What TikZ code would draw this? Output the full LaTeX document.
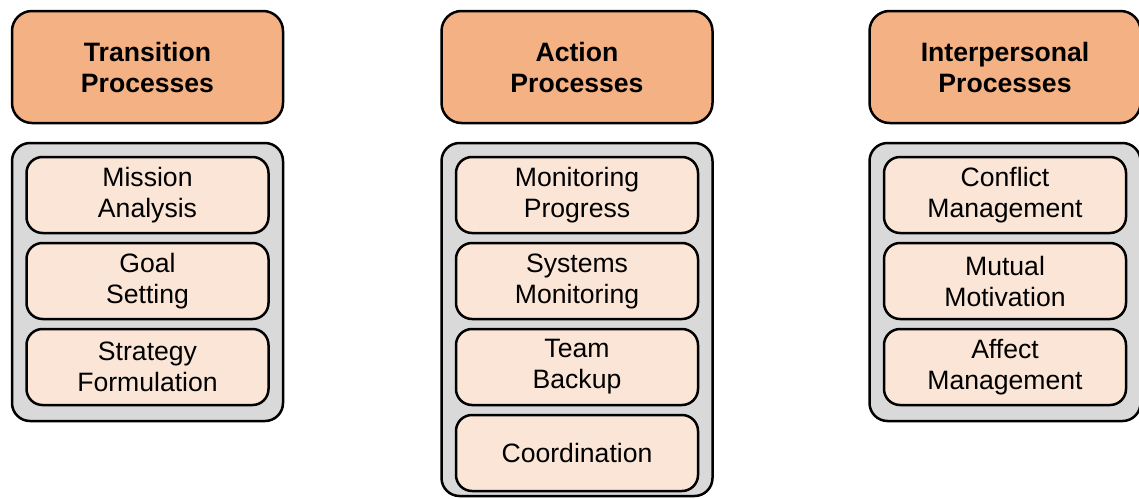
\documentclass[tikz,border=0pt]{standalone}
\usepackage{fontspec}
\setmainfont{Liberation Sans}
\usetikzlibrary{positioning}

\definecolor{headfill}{HTML}{F4B183}
\definecolor{itemfill}{HTML}{FBE5D6}
\definecolor{groupfill}{HTML}{D9D9D9}

\tikzset{
  header/.style={rectangle, rounded corners=10pt, draw, line width=1.25pt,
    fill=headfill, minimum width=135.5pt, minimum height=56pt,
    align=center, font=\fontsize{13.3pt}{15.5pt}\selectfont\bfseries},
  group/.style={rectangle, rounded corners=9pt, draw, line width=1.25pt,
    fill=groupfill, minimum width=135.5pt, anchor=north},
  item/.style={rectangle, rounded corners=8pt, draw, line width=1.25pt,
    fill=itemfill, minimum width=121pt, minimum height=38pt,
    align=center, font=\fontsize{13.3pt}{15.5pt}\selectfont, anchor=north}
}

\begin{document}
\begin{tikzpicture}[x=0.5pt,y=-0.5pt]
  \useasboundingbox (0,0) rectangle (1139,498);

  % headers
  \node[header] (th) at (147.5,67) {Transition\\Processes};
  \node[header] (ah) at (577,67) {Action\\Processes};
  \node[header] (ih) at (1005,67) {Interpersonal\\Processes};

  % grey groups
  \node[group, minimum height=139pt, below=8.75pt of th.south] (tg) {};
  \node[group, minimum height=176.5pt, below=8.75pt of ah.south] (ag) {};
  \node[group, minimum height=139pt, below=8.75pt of ih.south] (ig) {};

  % transition items
  \node[item, below=7pt of tg.north] (t1) {Mission\\Analysis};
  \node[item, below=3.75pt of t1] (t2) {Goal\\Setting};
  \node[item, below=3.75pt of t2] (t3) {Strategy\\Formulation};

  % action items
  \node[item, below=7pt of ag.north] (a1) {Monitoring\\Progress};
  \node[item, below=3.75pt of a1] (a2) {Systems\\Monitoring};
  \node[item, below=3.75pt of a2] (a3) {Team\\Backup};
  \node[item, below=3.75pt of a3] (a4) {Coordination};

  % interpersonal items
  \node[item, below=7pt of ig.north] (i1) {Conflict\\Management};
  \node[item, below=3.75pt of i1] (i2) {Mutual\\Motivation};
  \node[item, below=3.75pt of i2] (i3) {Affect\\Management};
\end{tikzpicture}
\end{document}
